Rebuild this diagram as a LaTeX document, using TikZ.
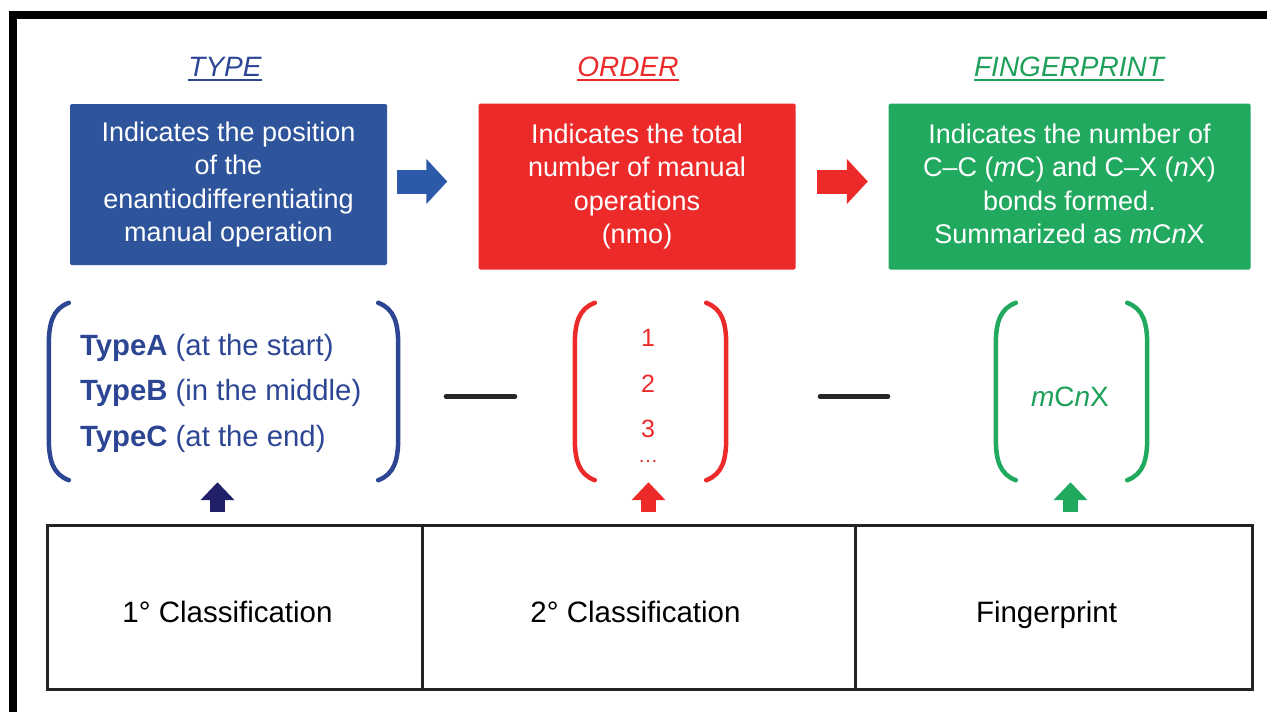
\documentclass[tikz,border=0pt]{standalone}
\usepackage{fontspec}
\setmainfont{Liberation Sans}
\usetikzlibrary{arrows.meta,calc}
\definecolor{boxblue}{RGB}{46,84,155}
\definecolor{txtblue}{RGB}{45,70,148}
\definecolor{arrblue}{RGB}{45,90,168}
\definecolor{navyarr}{RGB}{33,33,105}
\definecolor{myred}{RGB}{237,42,42}
\definecolor{mygreen}{RGB}{33,170,95}
\definecolor{txtgreen}{RGB}{30,160,90}
\definecolor{tableline}{RGB}{35,35,35}
\newcommand\drawparens[2]{%
  \draw[paren,#2] ($(#1.north west)+(20,0)$) .. controls ($(#1.north west)+(4,6)$) and ($(#1.north west)+(0,20)$) .. ($(#1.north west)+(0,42)$) -- ($(#1.south west)+(0,-42)$) .. controls ($(#1.south west)+(0,-20)$) and ($(#1.south west)+(4,-6)$) .. ($(#1.south west)+(20,0)$);
  \draw[paren,#2] ($(#1.north east)+(-20,0)$) .. controls ($(#1.north east)+(-4,6)$) and ($(#1.north east)+(0,20)$) .. ($(#1.north east)+(0,42)$) -- ($(#1.south east)+(0,-42)$) .. controls ($(#1.south east)+(0,-20)$) and ($(#1.south east)+(-4,-6)$) .. ($(#1.south east)+(-20,0)$);
}
\begin{document}
\begin{tikzpicture}[x=1pt,y=-1pt,
  title/.style={inner sep=0pt, anchor=base, font=\fontsize{28}{34}\selectfont\itshape},
  infobox/.style={minimum height=164pt, inner sep=0pt, text=white, align=center,
    font=\fontsize{27}{33.5}\selectfont, rounded corners=1.5pt},
  paren/.style={line width=4.5pt, line cap=round},
  grp/.style={minimum height=177pt, inner sep=0pt},
  cell/.style={draw=tableline, line width=3pt, minimum height=164pt, inner sep=0pt},
  celltext/.style={inner sep=0pt, anchor=base, font=\fontsize{29.5}{34}\selectfont},
  rarrow/.style={line width=24pt, -{Triangle[length=21pt,width=44pt]}},
  uarrow/.style={line width=15pt, -{Triangle[length=18pt,width=33pt]}},
  linkbar/.style={line width=5pt, black!85, line cap=round},
]
\useasboundingbox (0,0) rectangle (1267,712);
% outer frame
\fill[black] (9,11) rectangle (1267,19);
\fill[black] (9,11) rectangle (17,712);

% titles
\node[title, text=txtblue] (ttype) at (225,76) {TYPE};
\node[title, text=myred] (torder) at (628,76) {ORDER};
\node[title, text=txtgreen] (tfing) at (1069,76) {FINGERPRINT};
\draw[txtblue, line width=2pt] ($(ttype.base west)+(0,4)$) -- ($(ttype.base east)+(0,4)$);
\draw[myred, line width=2pt] ($(torder.base west)+(0,4)$) -- ($(torder.base east)+(0,4)$);
\draw[txtgreen, line width=2pt] ($(tfing.base west)+(0,4)$) -- ($(tfing.base east)+(0,4)$);

% info boxes
\node[infobox, fill=boxblue, minimum width=317pt, minimum height=161pt] (blue) at (228.5,184.5)
  {Indicates the position\\of the\\enantiodifferentiating\\manual operation};
\node[infobox, fill=myred, minimum width=317pt, minimum height=166pt] (red) at (637,186.5)
  {Indicates the total\\number of manual\\operations\\(nmo)\vphantom{p}};
\node[infobox, fill=mygreen, minimum width=362pt, minimum height=166pt] (green) at (1069.5,186.5)
  {Indicates the number of\\C--C (\textit{m}C) and C--X (\textit{n}X)\\bonds formed.\\Summarized as \textit{m}C\textit{n}X\vphantom{()}};

\draw[rarrow, arrblue, shorten <=10pt, shorten >=31pt] ($(blue.east)+(0,-3)$) -- ($(red.west)+(0,-5)$);
\draw[rarrow, myred, shorten <=21.5pt, shorten >=20.5pt] ($(red.east)+(0,-5)$) -- ($(green.west)+(0,-5)$);

% bracket groups
\node[grp, minimum width=349pt] (tg) at (223.5,391.5) {};
\node[grp, minimum width=151pt] (og) at (650.5,391.5) {};
\node[grp, minimum width=151pt] (fg) at (1071.5,391.5) {};
\drawparens{tg}{txtblue}
\drawparens{og}{myred}
\drawparens{fg}{mygreen}

\node[anchor=west, align=left, text=txtblue, inner sep=0pt, font=\fontsize{29.3}{45.5}\selectfont] (types) at (80,393)
  {\textbf{TypeA} (at the start)\\\textbf{TypeB} (in the middle)\\\textbf{TypeC} (at the end)};
\node[align=center, text=myred, inner sep=0pt, font=\fontsize{25}{45.5}\selectfont] (nums) at (648,384) {1\\2\\3};
\node[anchor=base, text=myred, inner sep=0pt, font=\fontsize{20}{24}\selectfont] (dots) at (648,462) {…};
\node[text=txtgreen, inner sep=0pt, font=\fontsize{28}{30}\selectfont] (mcnx) at (1070,397) {\textit{m}C\textit{n}X};

\draw[linkbar, shorten <=48pt, shorten >=60pt] ($(tg.east)+(0,5)$) -- ($(og.west)+(0,5)$);
\draw[linkbar, shorten <=94pt, shorten >=108pt] ($(og.east)+(0,5)$) -- ($(fg.west)+(0,5)$);

% table
\node[cell, minimum width=375pt] (cell1) at (234.5,607) {};
\node[cell, minimum width=433pt] (cell2) at (638.5,607) {};
\node[cell, minimum width=397pt] (cell3) at (1053.5,607) {};
\node[celltext] (c1txt) at ($(cell1.center)+(-7,15)$) {1° Classification};
\node[celltext] (c2txt) at ($(cell2.center)+(-3,15)$) {2° Classification};
\node[celltext] (c3txt) at ($(cell3.center)+(-7,15)$) {Fingerprint};

\draw[uarrow, navyarr, shorten <=12pt, shorten >=2pt] ($(tg.south |- cell1.north)+(-6,0)$) -- ($(tg.south)+(-6,0)$);
\draw[uarrow, myred, shorten <=12pt, shorten >=2pt] ($(og.south |- cell2.north)+(-2,0)$) -- ($(og.south)+(-2,0)$);
\draw[uarrow, mygreen, shorten <=12pt, shorten >=2pt] ($(fg.south |- cell3.north)+(-1,0)$) -- ($(fg.south)+(-1,0)$);
\end{tikzpicture}
\end{document}
